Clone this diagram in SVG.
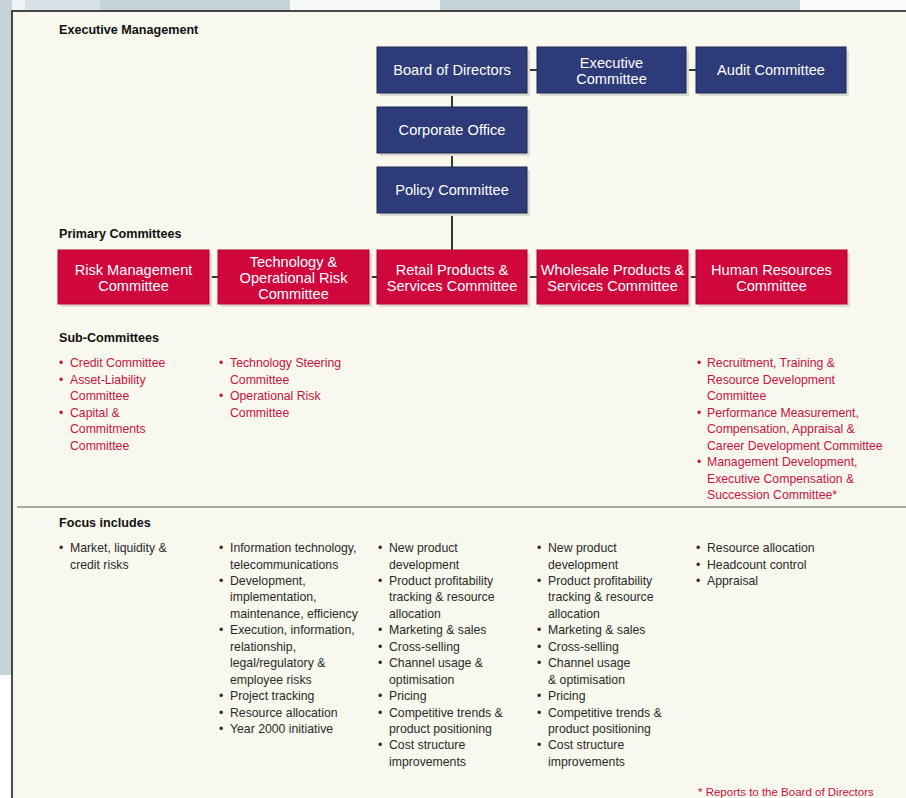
<svg xmlns="http://www.w3.org/2000/svg" width="906" height="798" viewBox="0 0 906 798">
<style>
.hdr{font-family:"Liberation Sans",Arial,sans-serif;font-size:12.6px;font-weight:bold;fill:#111}
.bx{font-family:"Liberation Sans",Arial,sans-serif;font-size:14.6px;fill:#fff;text-anchor:middle}
.navy{fill:#2d3b78;stroke:#1d2856;stroke-width:1}
.red{fill:#d0073c;stroke:#b5002f;stroke-width:1}
.sh{fill:#dcdcd2}
.sub{font-family:"Liberation Sans",Arial,sans-serif;font-size:12.25px;fill:#c8123f}
.foc{font-family:"Liberation Sans",Arial,sans-serif;font-size:12.25px;fill:#2a2a2a}
.con{stroke:#2f3a36;stroke-width:2;fill:none}
</style>
<rect x="0" y="0" width="906" height="798" fill="#ffffff"/>
<rect x="0" y="0" width="906" height="11" fill="#c6d4da"/>
<rect x="0" y="0" width="25" height="11" fill="#eef3f5"/>
<rect x="25" y="0" width="75" height="11" fill="#d8e2e6"/>
<rect x="290" y="0" width="150" height="11" fill="#f6f8f9"/>
<rect x="800" y="0" width="106" height="11" fill="#f8fafb"/>
<rect x="0" y="0" width="12" height="675" fill="#c6d4da"/>
<rect x="12" y="11" width="900" height="800" fill="#f8f8ee" stroke="#111" stroke-width="1.5"/>
<line x1="17" y1="507" x2="906" y2="507" stroke="#a8a8a0" stroke-width="2"/>

<text class="hdr" x="59" y="33.5">Executive Management</text>
<text class="hdr" x="59" y="237.5">Primary Committees</text>
<text class="hdr" x="59" y="341.5">Sub-Committees</text>
<text class="hdr" x="59" y="527">Focus includes</text>

<g id="connectors">
<line class="con" x1="527" y1="70" x2="537" y2="70"/>
<line class="con" x1="686" y1="70" x2="696" y2="70"/>
<line class="con" x1="452" y1="93" x2="452" y2="107"/>
<line class="con" x1="452" y1="153" x2="452" y2="167"/>
<line class="con" x1="452" y1="213" x2="452" y2="250"/>
<line class="con" x1="209" y1="277" x2="218" y2="277"/>
<line class="con" x1="369" y1="277" x2="377" y2="277"/>
<line class="con" x1="527" y1="277" x2="537" y2="277"/>
<line class="con" x1="688" y1="277" x2="696" y2="277"/>
</g>

<g id="board">
<rect class="sh" x="380" y="50" width="150" height="46"/>
<rect class="navy" x="377" y="47" width="150" height="46"/>
<text class="bx" x="452" y="75.2">Board of Directors</text>
</g>
<g id="executive">
<rect class="sh" x="540" y="50" width="149" height="46"/>
<rect class="navy" x="537" y="47" width="149" height="46"/>
<text class="bx" x="611.5" y="67.5">Executive</text>
<text class="bx" x="611.5" y="84">Committee</text>
</g>
<g id="audit">
<rect class="sh" x="699" y="50" width="150" height="46"/>
<rect class="navy" x="696" y="47" width="150" height="46"/>
<text class="bx" x="771" y="75.2">Audit Committee</text>
</g>
<g id="corporate">
<rect class="sh" x="380" y="110" width="150" height="46"/>
<rect class="navy" x="377" y="107" width="150" height="46"/>
<text class="bx" x="452" y="135.2">Corporate Office</text>
</g>
<g id="policy">
<rect class="sh" x="380" y="170" width="150" height="46"/>
<rect class="navy" x="377" y="167" width="150" height="46"/>
<text class="bx" x="452" y="195.2">Policy Committee</text>
</g>

<g id="risk">
<rect class="sh" x="61" y="253" width="151" height="54"/>
<rect class="red" x="58" y="250" width="151" height="54"/>
<text class="bx" x="133.5" y="275.2">Risk Management</text>
<text class="bx" x="133.5" y="291.4">Committee</text>
</g>
<g id="tech">
<rect class="sh" x="221" y="253" width="151" height="54"/>
<rect class="red" x="218" y="250" width="151" height="54"/>
<text class="bx" x="293.5" y="267">Technology &amp;</text>
<text class="bx" x="293.5" y="283">Operational Risk</text>
<text class="bx" x="293.5" y="299.2">Committee</text>
</g>
<g id="retail">
<rect class="sh" x="380" y="253" width="150" height="54"/>
<rect class="red" x="377" y="250" width="150" height="54"/>
<text class="bx" x="452" y="275.2">Retail Products &amp;</text>
<text class="bx" x="452" y="291.4">Services Committee</text>
</g>
<g id="wholesale">
<rect class="sh" x="540" y="253" width="151" height="54"/>
<rect class="red" x="537" y="250" width="151" height="54"/>
<text class="bx" x="612.5" y="275.2">Wholesale Products &amp;</text>
<text class="bx" x="612.5" y="291.4">Services Committee</text>
</g>
<g id="hr">
<rect class="sh" x="699" y="253" width="151" height="54"/>
<rect class="red" x="696" y="250" width="151" height="54"/>
<text class="bx" x="771.5" y="275.2">Human Resources</text>
<text class="bx" x="771.5" y="291.4">Committee</text>
</g>

<g id="sub-risk" class="sub">
<text x="59" y="367">•</text><text x="70" y="367">Credit Committee</text>
<text x="59" y="383.5">•</text><text x="70" y="383.5">Asset-Liability</text>
<text x="70" y="400">Committee</text>
<text x="59" y="416.5">•</text><text x="70" y="416.5">Capital &amp;</text>
<text x="70" y="433">Commitments</text>
<text x="70" y="449.5">Committee</text>
</g>
<g id="sub-tech" class="sub">
<text x="219" y="367">•</text><text x="230" y="367">Technology Steering</text>
<text x="230" y="383.5">Committee</text>
<text x="219" y="400">•</text><text x="230" y="400">Operational Risk</text>
<text x="230" y="416.5">Committee</text>
</g>
<g id="sub-hr" class="sub">
<text x="697" y="367">•</text><text x="707" y="367">Recruitment, Training &amp;</text>
<text x="707" y="383.5">Resource Development</text>
<text x="707" y="400">Committee</text>
<text x="697" y="416.5">•</text><text x="707" y="416.5">Performance Measurement,</text>
<text x="707" y="433">Compensation, Appraisal &amp;</text>
<text x="707" y="449.5">Career Development Committee</text>
<text x="697" y="466">•</text><text x="707" y="466">Management Development,</text>
<text x="707" y="482.5">Executive Compensation &amp;</text>
<text x="707" y="499">Succession Committee*</text>
</g>

<g id="focus-risk" class="foc">
<text x="59" y="552">•</text><text x="70" y="552">Market, liquidity &amp;</text>
<text x="70" y="568.5">credit risks</text>
</g>
<g id="focus-tech" class="foc">
<text x="219" y="552">•</text><text x="230" y="552">Information technology,</text>
<text x="230" y="568.5">telecommunications</text>
<text x="219" y="585">•</text><text x="230" y="585">Development,</text>
<text x="230" y="601.4">implementation,</text>
<text x="230" y="617.8">maintenance, efficiency</text>
<text x="219" y="634.3">•</text><text x="230" y="634.3">Execution, information,</text>
<text x="230" y="650.7">relationship,</text>
<text x="230" y="667.2">legal/regulatory &amp;</text>
<text x="230" y="683.6">employee risks</text>
<text x="219" y="700">•</text><text x="230" y="700">Project tracking</text>
<text x="219" y="716.5">•</text><text x="230" y="716.5">Resource allocation</text>
<text x="219" y="733">•</text><text x="230" y="733">Year 2000 initiative</text>
</g>
<g id="focus-retail" class="foc">
<text x="378" y="552">•</text><text x="389" y="552">New product</text>
<text x="389" y="568.5">development</text>
<text x="378" y="585">•</text><text x="389" y="585">Product profitability</text>
<text x="389" y="601.4">tracking &amp; resource</text>
<text x="389" y="617.8">allocation</text>
<text x="378" y="634.3">•</text><text x="389" y="634.3">Marketing &amp; sales</text>
<text x="378" y="650.7">•</text><text x="389" y="650.7">Cross-selling</text>
<text x="378" y="667.2">•</text><text x="389" y="667.2">Channel usage &amp;</text>
<text x="389" y="683.6">optimisation</text>
<text x="378" y="700">•</text><text x="389" y="700">Pricing</text>
<text x="378" y="716.5">•</text><text x="389" y="716.5">Competitive trends &amp;</text>
<text x="389" y="733">product positioning</text>
<text x="378" y="749.4">•</text><text x="389" y="749.4">Cost structure</text>
<text x="389" y="765.8">improvements</text>
</g>
<g id="focus-wholesale" class="foc">
<text x="537" y="552">•</text><text x="548" y="552">New product</text>
<text x="548" y="568.5">development</text>
<text x="537" y="585">•</text><text x="548" y="585">Product profitability</text>
<text x="548" y="601.4">tracking &amp; resource</text>
<text x="548" y="617.8">allocation</text>
<text x="537" y="634.3">•</text><text x="548" y="634.3">Marketing &amp; sales</text>
<text x="537" y="650.7">•</text><text x="548" y="650.7">Cross-selling</text>
<text x="537" y="667.2">•</text><text x="548" y="667.2">Channel usage</text>
<text x="548" y="683.6">&amp; optimisation</text>
<text x="537" y="700">•</text><text x="548" y="700">Pricing</text>
<text x="537" y="716.5">•</text><text x="548" y="716.5">Competitive trends &amp;</text>
<text x="548" y="733">product positioning</text>
<text x="537" y="749.4">•</text><text x="548" y="749.4">Cost structure</text>
<text x="548" y="765.8">improvements</text>
</g>
<g id="focus-hr" class="foc">
<text x="696" y="552">•</text><text x="707" y="552">Resource allocation</text>
<text x="696" y="568.5">•</text><text x="707" y="568.5">Headcount control</text>
<text x="696" y="585">•</text><text x="707" y="585">Appraisal</text>
</g>
<text class="sub" x="698" y="795.5" style="font-size:11.5px">* Reports to the Board of Directors</text>
</svg>
